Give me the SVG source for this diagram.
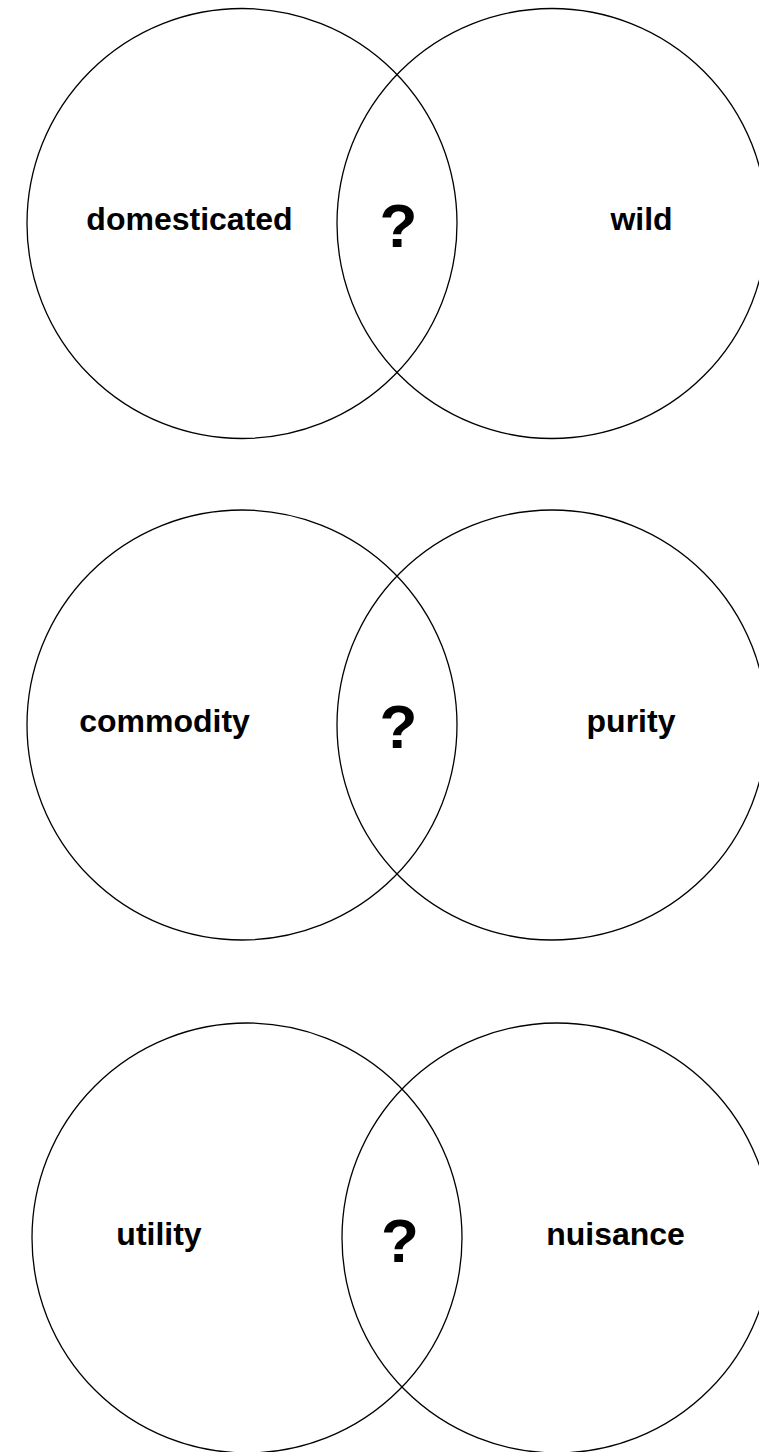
<svg xmlns="http://www.w3.org/2000/svg" width="759" height="1452" viewBox="0 0 759 1452">
<style>
.c{fill:none;stroke:#000;stroke-width:1.3}
.t{font-family:"Liberation Sans",Arial,sans-serif;font-weight:bold;font-size:32px;fill:#000;text-anchor:middle}
.q{font-family:"Liberation Sans",Arial,sans-serif;font-weight:bold;font-size:62px;fill:#000;text-anchor:middle}
</style>
<rect width="759" height="1452" fill="#fff"/>
<g id="pair1">
<g id="domesticated"><circle class="c" cx="242" cy="223.5" r="215"/><text class="t" x="189.5" y="230">domesticated</text></g>
<g id="wild"><circle class="c" cx="552" cy="223.5" r="215"/><text class="t" x="641.5" y="230">wild</text></g>
<g id="q1"><text class="q" x="398.5" y="247">?</text></g>
</g>
<g id="pair2">
<g id="commodity"><circle class="c" cx="242" cy="725" r="215"/><text class="t" x="164.5" y="732">commodity</text></g>
<g id="purity"><circle class="c" cx="552" cy="725" r="215"/><text class="t" x="631" y="732">purity</text></g>
<g id="q2"><text class="q" x="398.5" y="748">?</text></g>
</g>
<g id="pair3">
<g id="utility"><circle class="c" cx="247" cy="1238" r="215"/><text class="t" x="159" y="1245">utility</text></g>
<g id="nuisance"><circle class="c" cx="557" cy="1238" r="215"/><text class="t" x="615.5" y="1245">nuisance</text></g>
<g id="q3"><text class="q" x="400" y="1262">?</text></g>
</g>
<g id="connectors"/>
</svg>
